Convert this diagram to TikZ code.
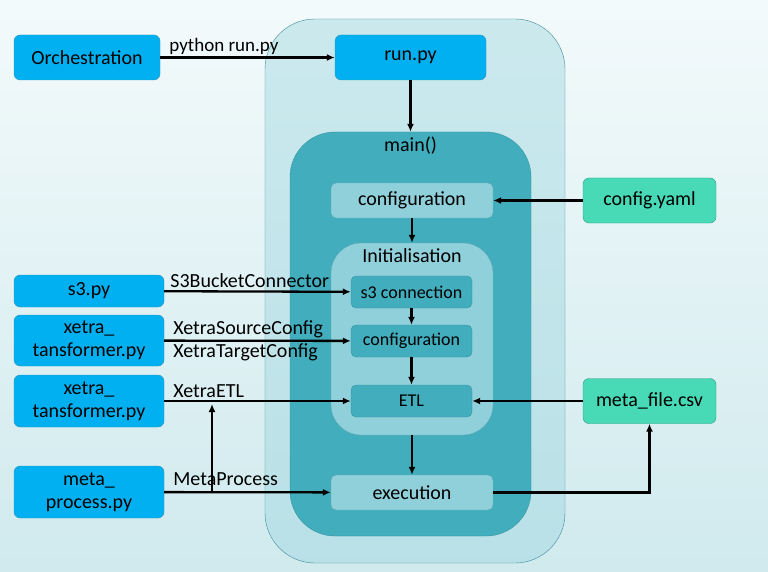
\documentclass[tikz,border=0pt]{standalone}
\usepackage{fontspec}
\setmainfont{Carlito}
\usetikzlibrary{arrows.meta}

\definecolor{bgtop}{HTML}{F3FAFB}
\definecolor{bgmid}{HTML}{BAE0E6}
\definecolor{bgbot}{HTML}{D0EAEE}
\definecolor{pyblue}{HTML}{00B0F0}
\definecolor{pyline}{HTML}{3A93B5}
\definecolor{filegreen}{HTML}{48D9B6}
\definecolor{fileline}{HTML}{2E9C88}
\definecolor{shell}{HTML}{9DD6DF}
\definecolor{shellline}{HTML}{3C8C98}
\definecolor{maindark}{HTML}{41ADBD}
\definecolor{mainline}{HTML}{3795A3}
\definecolor{steplight}{HTML}{90D0DA}
\definecolor{stepline}{HTML}{5FA9B5}

\begin{document}
\begin{tikzpicture}[x=1pt,y=-1pt,
    every node/.style={font=\fontsize{20}{23}\selectfont},
    pybox/.style={draw=pyline,fill=pyblue,rounded corners=6pt,align=center},
    filebox/.style={draw=fileline,fill=filegreen,rounded corners=6pt},
    lightbox/.style={draw=stepline,fill=steplight,rounded corners=5pt},
    darkbox/.style={draw=mainline,fill=maindark,rounded corners=5pt,
      font=\fontsize{18}{21}\selectfont},
    arr/.style={-{Latex[length=8pt,width=7pt]},line width=2.3pt},
    tag/.style={inner sep=2pt}]

  \useasboundingbox (0,0) rectangle (768,572);
  \shade[top color=bgtop,middle color=bgmid,bottom color=bgbot] (0,0) rectangle (768,572);

  \node (outer) [draw=shellline,fill=shell,fill opacity=.45,rounded corners=50pt,
    minimum width=300pt,minimum height=544pt] at (415,291) {};
  \node (main) [draw=mainline,fill=maindark,rounded corners=45pt,
    minimum width=241pt,minimum height=404pt,
    label={[anchor=north,inner sep=5pt]north:{main()}}] at (410.5,334) {};
  \node (init) [lightbox,rounded corners=30pt,minimum width=162pt,minimum height=192pt,
    label={[anchor=north,inner sep=6pt]north:{Initialisation}}] at (412,339) {};

  \begin{scope}[every node/.append style={pybox,minimum height=45pt}]
    \node (orch) [minimum width=146pt] at (87,57.5)    {Orchestration};
    \node (run)  [minimum width=151pt] at (410.5,57.5) {run.py};
  \end{scope}

  \begin{scope}[every node/.append style={pybox,minimum width=150pt}]
    \node (s3py) [minimum height=32pt] at (89,291)   {s3.py};
    \node (xt1)  [minimum height=51pt] at (89,340.5) {xetra\_\\tansformer.py};
    \node (xt2)  [minimum height=52pt] at (89,401)   {xetra\_\\tansformer.py};
    \node (mp)   [minimum height=52pt] at (89,492)   {meta\_\\process.py};
  \end{scope}

  \begin{scope}[every node/.append style={filebox,minimum width=133pt,minimum height=45pt}]
    \node (yaml) at (649.5,200.5) {config.yaml};
    \node (meta) at (649.5,401)   {meta\_file.csv};
  \end{scope}

  \begin{scope}[every node/.append style={lightbox,minimum width=162pt,minimum height=35pt}]
    \node (conf) at (412,200.5) {configuration};
    \node (exec) at (412,492.5) {execution};
  \end{scope}

  \begin{scope}[every node/.append style={darkbox,minimum width=121pt,minimum height=32pt}]
    \node (s3c)   at (411.5,292) {s3 connection};
    \node (conf2) at (411.5,341) {configuration};
    \node (etl)   at (411.5,401) {ETL};
  \end{scope}

  \coordinate (fork) at (212,492);
  \coordinate (tap)  at (212,404);

  \begin{scope}[every edge/.style={draw,arr}]
    \path (orch) edge node[tag,pos=0,anchor=south west,xshift=6pt,
      font=\fontsize{19}{21}\selectfont] {python run.py} (run);
    \path (run)  edge (main);
    \path (yaml) edge (conf);
    \path (conf) edge (init);
    \path (s3py) edge node[tag,pos=0,anchor=south west,xshift=3pt] {S3BucketConnector} (s3c);
    \path (xt1)  edge node[tag,pos=0,anchor=south west,xshift=6pt] {XetraSourceConfig}
                      node[tag,pos=0,anchor=north west,xshift=6pt] {XetraTargetConfig} (conf2);
    \path (xt2)  edge node[tag,pos=0,anchor=south west,xshift=6pt] {XetraETL} (etl);
    \path (mp)   edge node[tag,pos=0,anchor=south west,xshift=6pt,yshift=3pt] {MetaProcess} (exec);
    \path (fork) edge (tap);
    \path (s3c)  edge (conf2);
    \path (conf2) edge (etl);
    \path (init) edge (exec);
    \path (meta) edge (etl);
  \end{scope}
  \draw[arr] (exec) -| (meta);

\end{tikzpicture}
\end{document}
